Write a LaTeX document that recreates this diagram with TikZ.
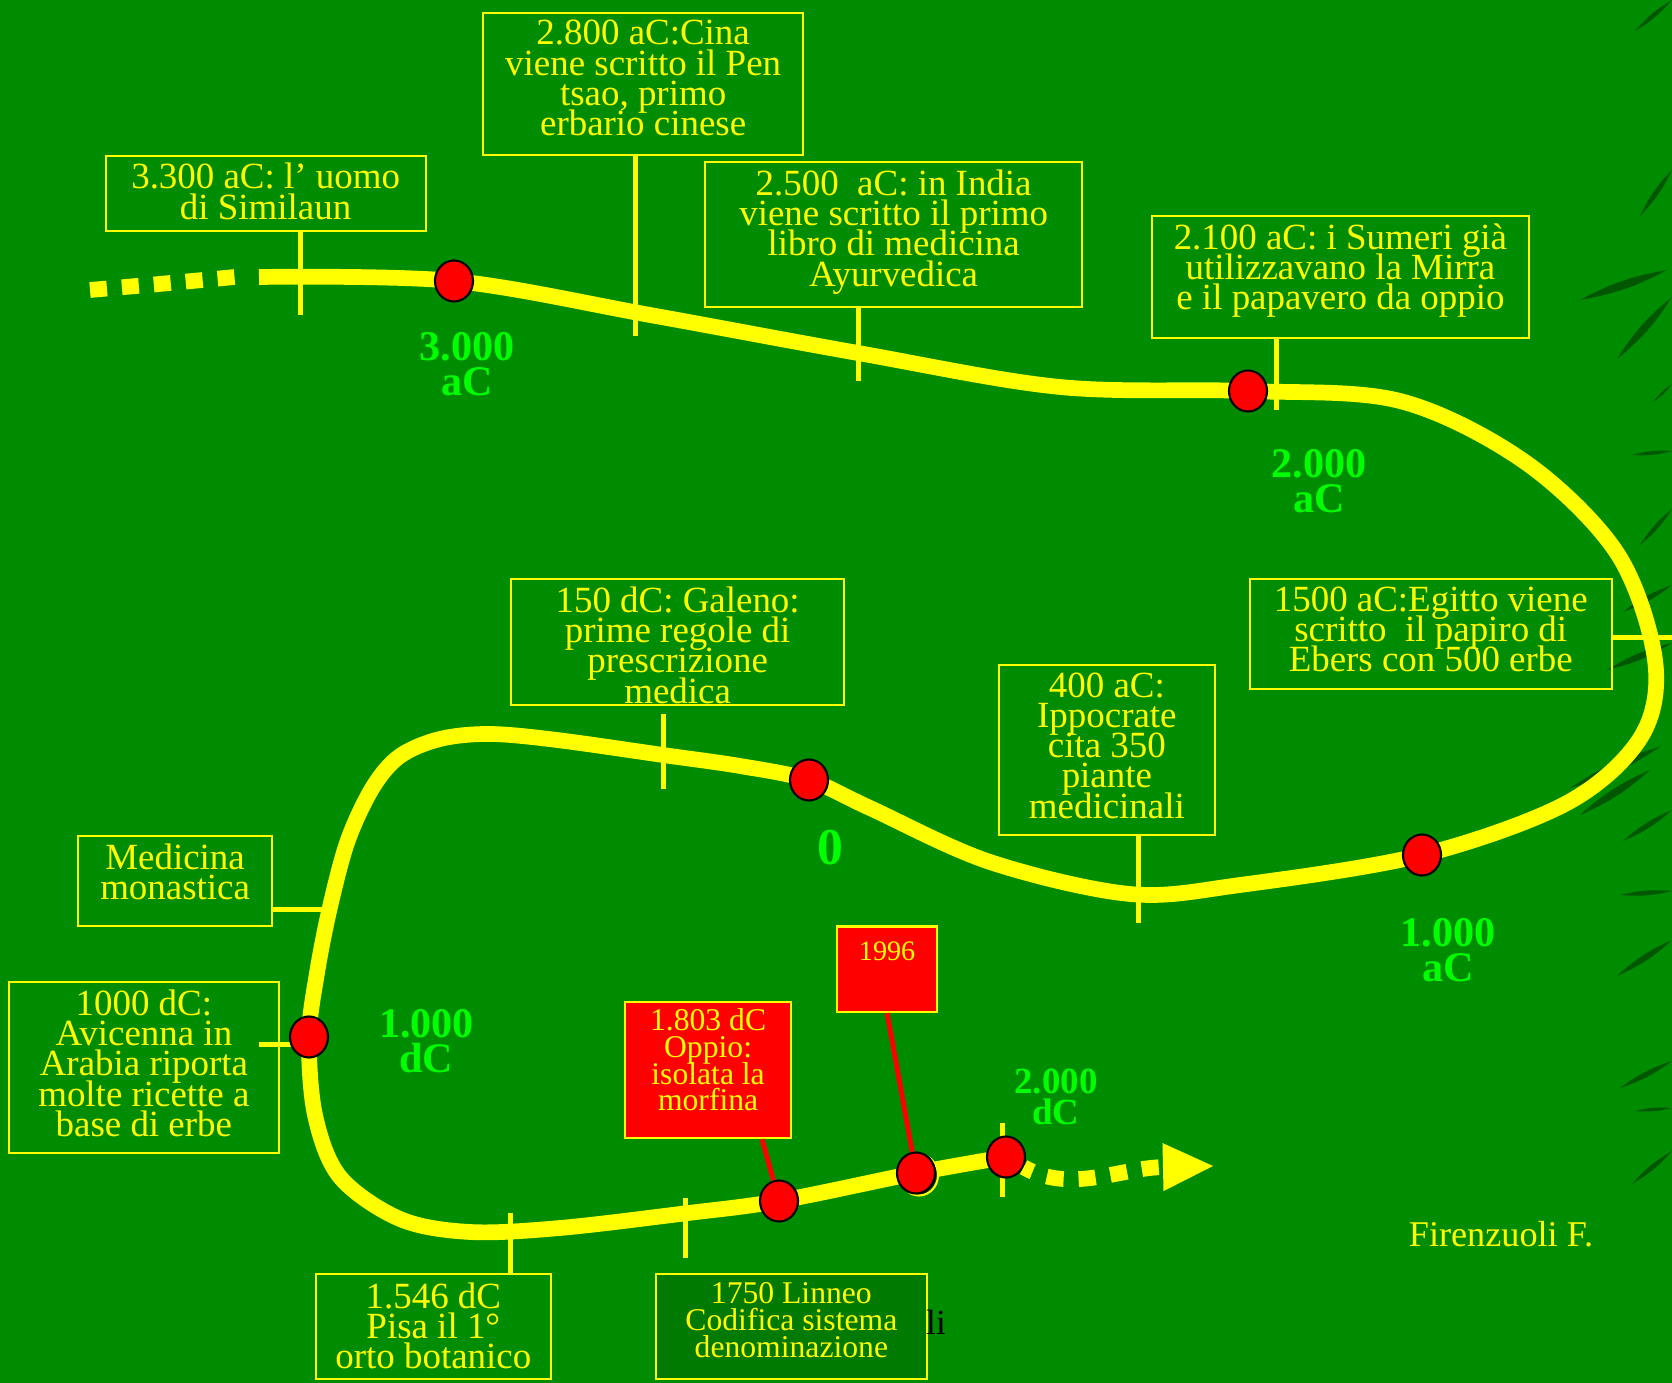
\documentclass[tikz,border=0pt]{standalone}
\usepackage{fontspec}
\setmainfont{Liberation Serif}
\usetikzlibrary{shapes.geometric,arrows.meta,calc}

\definecolor{prato}{RGB}{0,140,0}
\definecolor{scuro}{RGB}{0,122,0}
\definecolor{giallo}{RGB}{255,255,0}
\definecolor{verde}{RGB}{0,255,0}
\definecolor{foglia}{RGB}{0,78,0}

\tikzset{
  road/.style={giallo,line width=0.157cm},
  tacca/.style={giallo,line width=0.05cm},
  filo/.style={red,line width=0.05cm},
  box/.style={draw=giallo,line width=0.6pt,inner sep=0pt,anchor=north west},
  txt/.style={text=giallo,align=center,inner sep=0pt,anchor=north,
    font={\fontsize{10.5}{8.6}\selectfont\lineskiplimit=-20pt}},
  smalltxt/.style={txt,font={\fontsize{9}{7.6}\selectfont\lineskiplimit=-20pt}},
  anno/.style={text=verde,align=center,inner sep=0pt,
    font={\fontsize{12}{10}\selectfont\bfseries\lineskiplimit=-20pt}},
  dot/.style={ellipse,draw=black,line width=0.6pt,fill=red,
    minimum width=0.38cm,minimum height=0.41cm,inner sep=0pt},
  leafy/.style={fill=foglia,opacity=0.85}
}

\begin{document}
\begin{tikzpicture}[x=0.01cm,y=-0.01cm]

\fill[prato] (0,0) rectangle (1672,1383);
\useasboundingbox (0,0) rectangle (1672,1383);

% foglie sul bordo destro
\foreach \xa/\ya/\xb/\yb in {1635/31/1672/0, 1640/216/1672/170, 1580/300/1667/270,
    1617/359/1672/297, 1653/402/1672/384, 1632/455/1672/451, 1640/545/1672/509,
    1623/612/1672/585, 1607/670/1672/643, 1570/788/1660/747, 1580/815/1650/770,
    1623/841/1672/810, 1620/895/1672/891, 1617/976/1672/940, 1620/1088/1672/1061,
    1635/1111/1672/1108, 1632/1184/1672/1151}
  \fill[leafy] (\xa,\ya) to[bend left=9] (\xb,\yb) to[bend left=9] (\xa,\ya);

% riquadri
\node[box,minimum width=3.2cm,minimum height=0.75cm] (A) at (104.5,154.6) {};
\node[box,minimum width=3.2cm,minimum height=1.42cm] (B) at (482,11.7) {};
\node[box,minimum width=3.77cm,minimum height=1.45cm] (C) at (704,161) {};
\node[box,minimum width=3.775cm,minimum height=1.22cm] (D) at (1150.5,215) {};
\node[box,minimum width=3.62cm,minimum height=1.10cm] (E) at (1248.6,578) {};
\node[box,minimum width=2.155cm,minimum height=1.70cm] (F) at (998,664) {};
\node[box,minimum width=3.33cm,minimum height=1.26cm] (G) at (510,578) {};
\node[box,minimum width=1.94cm,minimum height=0.895cm] (H) at (77,835) {};
\node[box,minimum width=2.705cm,minimum height=1.71cm] (I) at (7.5,981) {};
\node[box,minimum width=2.355cm,minimum height=1.05cm] (J) at (314.5,1273) {};
\node[box,fill=scuro,minimum width=2.705cm,minimum height=1.05cm] (K) at (655,1273) {};
\node[box,fill=red,minimum width=1.66cm,minimum height=1.36cm] (L) at (624,1001) {};
\node[box,fill=red,minimum width=1.0cm,minimum height=0.855cm] (M) at (836,925.5) {};

% tacche
\coordinate (tA) at (300,315);
\coordinate (tB) at (635.5,336);
\coordinate (tC) at (858,381);
\coordinate (tD) at (1276,410.5);
\coordinate (tE) at (1672,637.5);
\coordinate (tF) at (1138,923);
\coordinate (tG1) at (663,714);
\coordinate (tG2) at (663,789);
\coordinate (tH) at (323,910);
\coordinate (tI1) at (259,1045);
\coordinate (tI2) at (309,1045);
\coordinate (tJ) at (510,1213);
\coordinate (tK1) at (685,1198);
\coordinate (tK2) at (685,1258);
\coordinate (tN1) at (1002,1123);
\coordinate (tN2) at (1002,1197);

\draw[tacca] (A.south -| tA) -- (tA);
\draw[tacca] (B.south -| tB) -- (tB);
\draw[tacca] (C.south -| tC) -- (tC);
\draw[tacca] (D.south -| tD) -- (tD);
\draw[tacca] (E.east |- tE) -- (tE);
\draw[tacca] (F.south -| tF) -- (tF);
\draw[tacca] (tG1) -- (tG2);
\draw[tacca] (H.east |- tH) -- (tH);
\draw[tacca] (tI1) -- (tI2);
\draw[tacca] (tJ) -- (tJ |- J.north);
\draw[tacca] (tK1) -- (tK2);
\draw[tacca] (tN1) -- (tN2);

% linea del tempo
\draw[road,dash pattern=on 0.17cm off 0.15cm] (90,290) .. controls (160,284) .. (235,277);
\draw[road] plot[smooth,tension=0.55] coordinates {
  (259,277) (454,281) (650,315) (858,353) (1060,387) (1248,391) (1400,401)
  (1525,462) (1617,553) (1655,660) (1641,737) (1567,803) (1422,855)
  (1240,885) (1130,894) (990,862) (870,808) (809,780) (740,766) (663,755)
  (557,740) (490,734) (440,739) (400,756) (373,787) (348,840) (330,907)
  (317,973) (309,1037) (315,1115) (340,1177) (400,1219) (470,1232) (560,1228)
  (680,1214) (779,1201) (916,1173) (1006,1157)};

% date
\node[dot,draw=giallo,fill=black!80!green] (d7s) at (919,1175) {};
\foreach \n/\x/\y in {d1/454/281, d2/1248/391, d3/1422/855, d4/809/780,
    d5/309/1037, d6/779/1201, d7/916/1173, d8/1006/1157}
  \node[dot] (\n) at (\x,\y) {};

\coordinate (fine) at (1213,1166);
\draw[road,dash pattern=on 0.17cm off 0.15cm,dash phase=0.07cm,
  -{Triangle[length=0.5cm,width=0.48cm,line width=0pt]}]
  (d8) .. controls (1070,1194) and (1120,1168) .. (fine);

\coordinate (rL) at (762,0);
\draw[filo] (L.south -| rL) -- (d6);
\draw[filo] (M.south) -- (d7);

% testi
\node[txt] (At) at ($(A.north)+(0,8)$) {3.300 aC: l’ uomo\\di Similaun};
\node[txt] (Bt) at ($(B.north)+(0,8)$) {2.800 aC:Cina\\viene scritto il Pen\\tsao, primo\\erbario cinese};
\node[txt] (Ct) at ($(C.north)+(0,8)$) {2.500~ aC: in India\\viene scritto il primo\\libro di medicina\\Ayurvedica};
\node[txt] (Dt) at ($(D.north)+(0,8)$) {2.100 aC: i Sumeri già\\utilizzavano la Mirra\\e il papavero da oppio};
\node[txt] (Et) at ($(E.north)+(0,8)$) {1500 aC:Egitto viene\\scritto~ il papiro di\\Ebers con 500 erbe};
\node[txt] (Ft) at ($(F.north)+(0,8)$) {400 aC:\\Ippocrate\\cita 350\\piante\\medicinali};
\node[txt] (Gt) at ($(G.north)+(0,8)$) {150 dC: Galeno:\\prime regole di\\prescrizione\\medica};
\node[txt] (Ht) at ($(H.north)+(0,8)$) {Medicina\\monastica};
\node[txt] (It) at ($(I.north)+(0,8)$) {1000 dC:\\Avicenna in\\Arabia riporta\\molte ricette a\\base di erbe};
\node[txt] (Jt) at ($(J.north)+(0,9)$) {1.546 dC\\Pisa il 1°\hspace*{0.6em}\\orto botanico};
\node[smalltxt] (Kt) at ($(K.north)+(0,9)$) {1750 Linneo\\Codifica sistema\\denominazione};
\node[smalltxt] (Lt) at ($(L.north)+(0,7)$) {1.803 dC\\Oppio:\\isolata la\\morfina};
\node[smalltxt,font=\fontsize{8}{8}\selectfont] (Mt) at ($(M.north)+(0,16)$) {1996};

\node[anno] (l1) at (467,364) {3.000\\aC};
\node[anno] (l2) at (1319,481) {2.000\\aC};
\node[anno] (l3) at (1448,950) {1.000\\aC};
\node[anno,font=\fontsize{14.7}{14}\selectfont\bfseries] (l4) at (830,848) {0};
\node[anno] (l5) at (426.5,1041) {1.000\\dC};
\node[anno,font={\fontsize{10.5}{8.6}\selectfont\bfseries\lineskiplimit=-20pt}] (l6) at (1056,1097) {2.000\\dC};

\node[txt,anchor=center,font=\fontsize{10.3}{12}\selectfont] (firma) at (1501,1234) {Firenzuoli F.};
\node[inner sep=0pt,font=\fontsize{10}{12}\selectfont] (li) at (936,1322) {li};

\end{tikzpicture}
\end{document}
